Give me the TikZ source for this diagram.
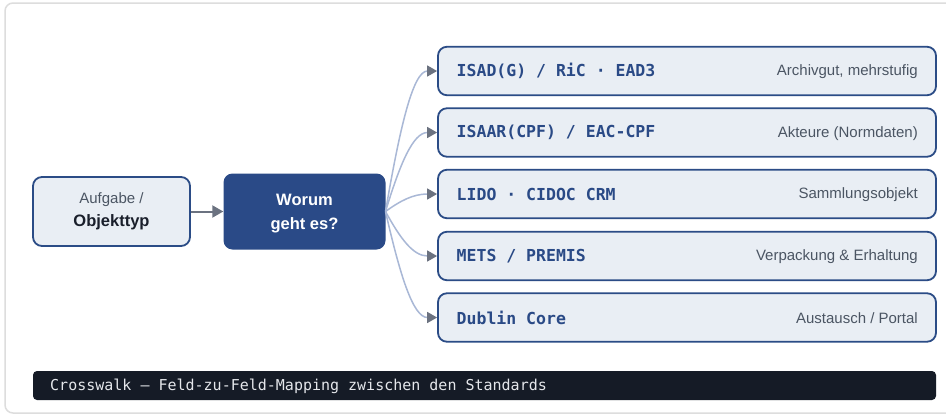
\documentclass[tikz,border=0pt]{standalone}
\usepackage{fontspec}
\setmainfont{Liberation Sans}
\newfontfamily\monob{DejaVu Sans Mono}
\newfontfamily\barfont{DejaVu Sans Mono}
\usetikzlibrary{arrows.meta}
\definecolor{boxfill}{HTML}{E9EEF4}
\definecolor{boxborder}{HTML}{2B4C86}
\definecolor{darkfill}{HTML}{2A4A87}
\definecolor{monotext}{HTML}{2A4A86}
\definecolor{graytext}{HTML}{4B5563}
\definecolor{conncol}{HTML}{A9B8D6}
\definecolor{arrowgray}{HTML}{6B7280}
\definecolor{barfill}{HTML}{151B26}
\definecolor{bartext}{HTML}{E5E7EB}
\definecolor{framecol}{HTML}{DDDDDD}
\definecolor{darktext}{HTML}{1A1F2B}
\tikzset{
  stdbox/.style={draw=boxborder, line width=1.8pt, fill=boxfill, rounded corners=9pt,
    minimum width=498pt, minimum height=48.5pt, inner sep=0pt},
  leftbox/.style={draw=boxborder, line width=1.8pt, fill=boxfill, rounded corners=9pt,
    minimum width=157pt, minimum height=69pt, inner sep=0pt, align=center},
  midbox/.style={fill=darkfill, rounded corners=9pt,
    minimum width=162pt, minimum height=76pt, inner sep=0pt, align=center, text=white},
  stdname/.style={anchor=west, inner sep=0pt, text=monotext, font=\monob\bfseries\fontsize{16.5}{20}\selectfont},
  stddesc/.style={anchor=east, inner sep=0pt, text=graytext, font=\fontsize{15}{18}\selectfont},
  conn/.style={draw=conncol, line width=1.5pt, -{Triangle[length=10pt,width=11pt,color=arrowgray]}},
  mainarrow/.style={draw=arrowgray, line width=2pt, -{Triangle[length=11pt,width=12pt]}},
}
\begin{document}
\begin{tikzpicture}[x=1pt,y=-1pt]
\useasboundingbox (0,0) rectangle (946,418);
\fill[white] (0,0) rectangle (946,418);
\draw[framecol, line width=1.5pt, rounded corners=8pt] (5,3) rectangle (970,413);

\node[leftbox] (task) at (111.5,211.5) {};
\node[text=graytext, font=\fontsize{15}{18}\selectfont, inner sep=0pt] (tasktop) at (111.5,200) {Aufgabe /};
\node[text=darktext, font=\bfseries\fontsize{16.5}{20}\selectfont, inner sep=0pt] (taskbot) at (111.5,222) {Objekttyp};

\node[midbox] (q) at (304.5,211.5) {};
\node[text=white, font=\bfseries\fontsize{16.5}{20}\selectfont, inner sep=0pt] (qtop) at (304.5,200) {Worum};
\node[text=white, font=\bfseries\fontsize{16.5}{20}\selectfont, inner sep=0pt] (qbot) at (304.5,225.5) {geht es?};

\draw[mainarrow] (task.east) -- (q.west);

\node[stdbox] (b1) at (687,71) {};
\node[stdbox] (b2) at (687,132.5) {};
\node[stdbox] (b3) at (687,194) {};
\node[stdbox] (b4) at (687,256) {};
\node[stdbox] (b5) at (687,317.5) {};

\node[stdname] (n1) at (456.5,71) {ISAD(G) / RiC · EAD3};
\node[stdname] (n2) at (456.5,132.5) {ISAAR(CPF) / EAC-CPF};
\node[stdname] (n3) at (456.5,194) {LIDO · CIDOC CRM};
\node[stdname] (n4) at (456.5,256) {METS / PREMIS};
\node[stdname] (n5) at (456.5,317.5) {Dublin Core};

\node[stddesc] (d1) at (918,72) {Archivgut, mehrstufig};
\node[stddesc] (d2) at (918,133.5) {Akteure (Normdaten)};
\node[stddesc] (d3) at (918,195) {Sammlungsobjekt};
\node[stddesc] (d4) at (918,257) {Verpackung \& Erhaltung};
\node[stddesc] (d5) at (918,318.5) {Austausch / Portal};

\coordinate (src) at (385.5,211.5);
\draw[conn] (src) .. controls (400,127) and (413,71) .. (b1.west);
\draw[conn] (src) .. controls (400,163.9) and (413,132.5) .. (b2.west);
\draw[conn] (src) .. controls (400,201) and (413,194) .. (b3.west);
\draw[conn] (src) .. controls (400,238) and (413,256) .. (b4.west);
\draw[conn] (src) .. controls (400,275) and (413,317.5) .. (b5.west);

\node[fill=barfill, rounded corners=4pt, minimum width=903pt, minimum height=29pt, inner sep=0pt] (bar) at (484.5,385.5) {};
\node[anchor=west, inner sep=0pt, text=bartext, font=\barfont\fontsize{15}{18}\selectfont] (bartxt) at (50,386) {Crosswalk — Feld-zu-Feld-Mapping zwischen den Standards};
\end{tikzpicture}
\end{document}
